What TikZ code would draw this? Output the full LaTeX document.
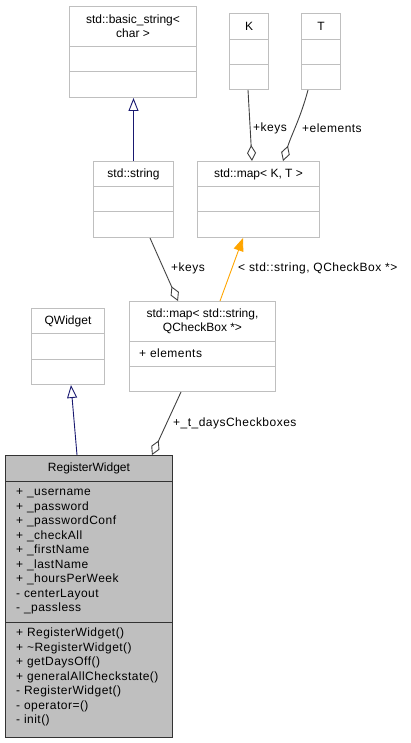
\documentclass[tikz,border=0pt]{standalone}
\usepackage{fontspec}
\setmainfont{Liberation Sans}
\newfontfamily\widefont[LetterSpace=4]{Liberation Sans}
\usetikzlibrary{arrows.meta,calc}
\definecolor{boxgray}{HTML}{BFBFBF}
\definecolor{edgegray}{HTML}{404040}
\definecolor{inhblue}{HTML}{191970}
\definecolor{tplorange}{HTML}{FFA500}
\newcommand\umlcomp[6]{\node[comp, minimum width=#4pt, minimum height=#5pt] (#1) at (#2,#3) {#6};}
\begin{document}
\begin{tikzpicture}[x=1pt,y=-1pt,
  font=\fontsize{12}{14}\selectfont,
  comp/.style={draw=boxgray, line width=1pt, fill=white, inner sep=0pt, anchor=north west, align=center},
  hicomp/.style={comp, draw=black!80, fill=boxgray},
  txt/.style={inner sep=0pt, anchor=west, align=left, font=\widefont\fontsize{12}{14.45}\selectfont},
  inh/.style={draw=inhblue, line width=0.9pt, -{Triangle[open, length=13pt, width=10pt]}},
  agg/.style={draw=edgegray, line width=0.9pt, -{Diamond[open, length=16pt, width=9pt]}},
  tpl/.style={draw=tplorange, line width=0.9pt, -{Triangle[length=13pt, width=10pt]}},
  lbl/.style={inner sep=0pt, anchor=west, font=\widefont\fontsize{12}{14}\selectfont}]
\useasboundingbox (0,0) rectangle (410,743);
% std::basic_string<char>
\umlcomp{bsT}{69}{6}{127}{40}{std::basic\_string<\\char >}
\umlcomp{bsA}{69}{46}{127}{25}{}
\umlcomp{bsM}{69}{71}{127}{26}{}
% K
\umlcomp{kT}{229}{13}{39}{26}{K}
\umlcomp{kA}{229}{39}{39}{25}{}
\umlcomp{kM}{229}{64}{39}{25}{}
% T
\umlcomp{tT}{301}{13}{39}{26}{T}
\umlcomp{tA}{301}{39}{39}{25}{}
\umlcomp{tM}{301}{64}{39}{25}{}
% std::string
\umlcomp{ssT}{93}{161}{80}{25}{std::string}
\umlcomp{ssA}{93}{186}{80}{25}{}
\umlcomp{ssM}{93}{211}{80}{26}{}
% std::map<K,T>
\umlcomp{mkT}{197}{161}{122}{25}{std::map< K, T >}
\umlcomp{mkA}{197}{186}{122}{25}{}
\umlcomp{mkM}{197}{211}{122}{26}{}
% QWidget
\umlcomp{qwT}{31}{308}{73}{25}{QWidget}
\umlcomp{qwA}{31}{333}{73}{26}{}
\umlcomp{qwM}{31}{359}{73}{25}{}
% std::map<std::string, QCheckBox*>
\umlcomp{msT}{129}{301}{146}{40}{std::map< std::string,\\QCheckBox *>}
\umlcomp{msA}{129}{341}{146}{25}{}
\umlcomp{msM}{129}{366}{146}{25}{}
\node[txt] (msAt) at (139,353.5) {+ elements};
% RegisterWidget
\node[hicomp, minimum width=167pt, minimum height=26pt] (rwT) at (5,455) {RegisterWidget};
\node[hicomp, minimum width=167pt, minimum height=141pt] (rwA) at (5,481) {};
\node[hicomp, minimum width=167pt, minimum height=115pt] (rwM) at (5,622) {};
\node[txt] (rwAt) at (16,551.5) {+ \_username\\+ \_password\\+ \_passwordConf\\+ \_checkAll\\+ \_firstName\\+ \_lastName\\+ \_hoursPerWeek\\- centerLayout\\- \_passless};
\node[txt] (rwMt) at (16,677) {+ RegisterWidget()\\+ \textasciitilde RegisterWidget()\\+ getDaysOff()\\+ generalAllCheckstate()\\- RegisterWidget()\\- operator=()\\- init()};
% connectors
\draw[inh] (ssT.north) -- (ssT.north |- bsM.south);
\draw[inh] ($(rwT.north west)+(72,0)$) -- ($(qwM.south west)+(40,0)$);
\draw[agg] ($(kM.south west)+(19,0)$) -- ($(mkT.north west)+(55,0)$);
\draw[agg] ($(tM.south west)+(7,0)$) to[out=-105, in=72] ($(mkT.north west)+(86,0)$);
\draw[agg] ($(ssM.south west)+(57,0)$) -- ($(msT.north west)+(49,0)$);
\draw[tpl] ($(msT.north west)+(91,0)$) -- ($(mkM.south west)+(46,0)$);
\draw[agg] ($(msM.south west)+(52,0)$) -- ($(rwT.north west)+(147,0)$);
% labels
\node[lbl] (l1) at (253,128) {+keys};
\node[lbl] (l2) at (302,128) {+elements};
\node[lbl] (l3) at (171,268) {+keys};
\node[lbl] (l4) at (238,268) {< std::string, QCheckBox *>};
\node[lbl] (l5) at (173,423) {+\_t\_daysCheckboxes};
\end{tikzpicture}
\end{document}
